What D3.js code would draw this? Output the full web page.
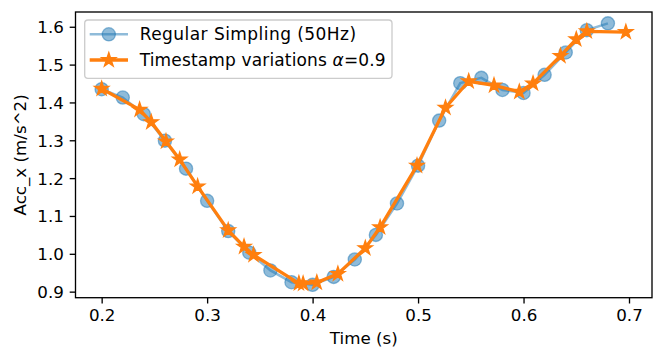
<!DOCTYPE html>
<html>
<head>
<meta charset="utf-8">
<script src="https://cdn.jsdelivr.net/npm/d3@7"></script>
<style>
  body { margin: 0; background: #fff; }
  svg { display: block; font-family: "DejaVu Sans", sans-serif; }
</style>
</head>
<body>
<svg width="665" height="363"></svg>
<script>
// regular sampling at 50Hz
var regT = [0.20, 0.22, 0.24, 0.26, 0.28, 0.30, 0.32, 0.34, 0.36, 0.38, 0.40, 0.42, 0.44,
            0.46, 0.48, 0.50, 0.52, 0.54, 0.56, 0.58, 0.60, 0.62, 0.64, 0.66, 0.68];
var regV = [1.435, 1.413, 1.369, 1.299, 1.225, 1.140, 1.060, 1.003, 0.956, 0.925, 0.918, 0.939, 0.985,
            1.050, 1.133, 1.233, 1.352, 1.451, 1.465, 1.433, 1.425, 1.473, 1.532, 1.591, 1.609];

// jittered timestamps, alpha = 0.9
var varT = [0.200, 0.236, 0.247, 0.261, 0.274, 0.291, 0.320, 0.335, 0.344, 0.387, 0.391, 0.404, 0.424,
            0.450, 0.464, 0.499, 0.526, 0.548, 0.572, 0.596, 0.609, 0.635, 0.650, 0.660, 0.697];
var varV = [1.436, 1.381, 1.348, 1.297, 1.249, 1.178, 1.062, 1.019, 0.997, 0.922, 0.921, 0.924, 0.947,
            1.015, 1.070, 1.233, 1.386, 1.456, 1.445, 1.428, 1.450, 1.523, 1.567, 1.588, 1.586];

var xTicks = [0.2, 0.3, 0.4, 0.5, 0.6, 0.7];
var yTicks = [0.9, 1.0, 1.1, 1.2, 1.3, 1.4, 1.5, 1.6];

var seriesNames = ["Regular Simpling (50Hz)", "Timestamp variations "];
var blue = "#1f77b4", orange = "#ff7f0e";

var svg = d3.select("svg"),
    width = +svg.attr("width"),
    height = +svg.attr("height");

var margin = {left: 75.5, right: 13, top: 12, bottom: 65.3};
var fs = 16.7;

var x = d3.scaleLinear().domain([0.1752, 0.7218]).range([margin.left, width - margin.right]);
var y = d3.scaleLinear().domain([0.884, 1.639]).range([height - margin.bottom, margin.top]);

// star like matplotlib's '*' marker
function starPath(r) {
  var ri = r * 0.381966, pts = [];
  for (var i = 0; i < 10; i++) {
    var a = Math.PI / 5 * i - Math.PI / 2;
    var rr = i % 2 ? ri : r;
    pts.push([rr * Math.cos(a), rr * Math.sin(a)]);
  }
  return "M" + pts.map(p => p[0].toFixed(2) + "," + p[1].toFixed(2)).join("L") + "Z";
}

var line = d3.line().x(d => x(d[0])).y(d => y(d[1]));
var regData = regT.map((t, i) => [t, regV[i]]);
var varData = varT.map((t, i) => [t, varV[i]]);

var plot = svg.append("g");

// blue series (alpha 0.5)
plot.append("path")
    .datum(regData)
    .attr("d", line)
    .attr("fill", "none")
    .attr("stroke", blue)
    .attr("stroke-opacity", 0.5)
    .attr("stroke-width", 2.5);

plot.append("g").selectAll("circle")
  .data(regData)
  .enter().append("circle")
    .attr("cx", d => x(d[0]))
    .attr("cy", d => y(d[1]))
    .attr("r", 6.6)
    .attr("fill", blue)
    .attr("fill-opacity", 0.5)
    .attr("stroke", blue)
    .attr("stroke-opacity", 0.5)
    .attr("stroke-width", 1.3);

// orange series
plot.append("path")
    .datum(varData)
    .attr("d", line)
    .attr("fill", "none")
    .attr("stroke", orange)
    .attr("stroke-width", 3.3)
    .attr("stroke-linejoin", "round");

plot.append("g").selectAll("path")
  .data(varData)
  .enter().append("path")
    .attr("transform", d => "translate(" + x(d[0]) + "," + y(d[1]) + ")")
    .attr("d", starPath(7.5))
    .attr("fill", orange)
    .attr("stroke", orange)
    .attr("stroke-width", 1.3)
    .attr("stroke-linejoin", "miter");

// axes
var xAxis = d3.axisBottom(x).tickValues(xTicks).tickFormat(d3.format(".1f")).tickSize(5.8).tickPadding(5.8);
var yAxis = d3.axisLeft(y).tickValues(yTicks).tickFormat(d3.format(".1f")).tickSize(5.8).tickPadding(5.8);

var gx = svg.append("g")
    .attr("transform", "translate(0," + (height - margin.bottom) + ")")
    .call(xAxis);
var gy = svg.append("g")
    .attr("transform", "translate(" + margin.left + ",0)")
    .call(yAxis);

[gx, gy].forEach(function(g) {
  g.select(".domain").remove();
  g.selectAll(".tick line").attr("stroke", "#000").attr("stroke-width", 1.33);
  g.selectAll(".tick text").attr("fill", "#000").style("font-size", fs + "px")
   .style("font-family", "DejaVu Sans");
});
gy.selectAll(".tick text").attr("dy", "0.36em");

// frame
svg.append("rect")
    .attr("x", margin.left)
    .attr("y", margin.top)
    .attr("width", width - margin.left - margin.right)
    .attr("height", height - margin.top - margin.bottom)
    .attr("fill", "none")
    .attr("stroke", "#000")
    .attr("stroke-width", 1.33);

// axis labels
svg.append("text")
    .attr("x", (margin.left + width - margin.right) / 2)
    .attr("y", 344)
    .attr("text-anchor", "middle")
    .style("font-size", fs + "px")
    .text("Time (s)");

svg.append("text")
    .attr("transform", "translate(26," + ((margin.top + height - margin.bottom) / 2) + ") rotate(-90)")
    .attr("text-anchor", "middle")
    .style("font-size", fs + "px")
    .text("Acc_x (m/s^2)");

// legend
var legend = svg.append("g");
legend.append("rect")
    .attr("x", 84.7)
    .attr("y", 20)
    .attr("width", 392 - 84.7)
    .attr("height", 58.3)
    .attr("rx", 3.3)
    .attr("fill", "#fff")
    .attr("fill-opacity", 0.8)
    .attr("stroke", "#ccc")
    .attr("stroke-width", 1.33);

var rows = [34.3, 60];
legend.append("line")
    .attr("x1", 89.7).attr("x2", 128).attr("y1", rows[0]).attr("y2", rows[0])
    .attr("stroke", blue).attr("stroke-opacity", 0.5).attr("stroke-width", 2.5);
legend.append("circle")
    .attr("cx", 108.8).attr("cy", rows[0]).attr("r", 6.6)
    .attr("fill", blue).attr("fill-opacity", 0.5)
    .attr("stroke", blue).attr("stroke-opacity", 0.5).attr("stroke-width", 1.3);
legend.append("line")
    .attr("x1", 89.7).attr("x2", 128).attr("y1", rows[1]).attr("y2", rows[1])
    .attr("stroke", orange).attr("stroke-width", 3.3);
legend.append("path")
    .attr("transform", "translate(108.8," + rows[1] + ")")
    .attr("d", starPath(7.5))
    .attr("fill", orange).attr("stroke", orange).attr("stroke-width", 1.3);

var labs = legend.selectAll("text.lab")
  .data(seriesNames)
  .enter().append("text")
    .attr("class", "lab")
    .attr("x", 139.7)
    .attr("y", (d, i) => rows[i])
    .attr("dy", "0.36em")
    .style("font-size", "17px")
    .style("letter-spacing", (d, i) => i ? "0.15px" : "0.45px")
    .style("white-space", "pre")
    .text(d => d);

// math part of the second label
var math = d3.select(labs.nodes()[1]);
math.append("tspan").style("font-style", "italic").text("\u03b1");
math.append("tspan").text("=0.9");
</script>
</body>
</html>
